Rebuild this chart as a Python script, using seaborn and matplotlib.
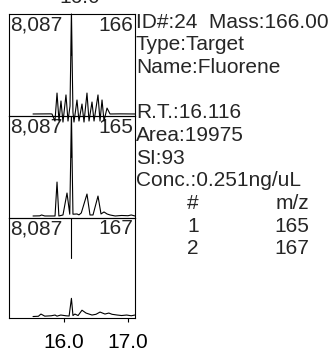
import numpy as np
import pandas as pd
import matplotlib
matplotlib.use("Agg")
import matplotlib.pyplot as plt
import seaborn as sns

sns.set_style("white")
plt.rcParams['font.family'] = ['Liberation Sans', 'DejaVu Sans']

# retention times (min) and intensities
rt_166 = [15.516, 15.781, 15.8125, 15.859, 15.891, 15.922, 15.953, 15.984, 16.031, 16.0625,
          16.094, 16.116, 16.14, 16.156, 16.203, 16.234, 16.281, 16.3125, 16.359, 16.391,
          16.4375, 16.469, 16.531, 16.5625, 16.594, 16.625, 16.672, 16.719, 16.875, 17.109]
int_166 = [160, 170, 160, -400, 1820, -400, 1190, -480, 1670, -400,
           790, 8087, 300, -480, 1270, -400, 950, -480, 1820, -400,
           1110, -400, 1670, -400, 1270, -400, 630, 160, 170, 160]

rt_165 = [15.516, 15.62, 15.65, 15.70, 15.80, 15.86, 15.891, 15.92, 15.984, 16.047,
          16.09, 16.116, 16.14, 16.203, 16.234, 16.27, 16.359, 16.406, 16.453, 16.531,
          16.578, 16.625, 16.672, 16.719, 16.80, 16.90, 17.0, 17.05, 17.109]
int_165 = [160, 170, 240, 160, 160, 160, 2850, 160, 240, 1980,
           300, 8087, 300, 320, 250, 400, 1900, 240, 240, 1740,
           320, 480, 320, 240, 160, 200, 180, 240, 160]

rt_167 = [15.516, 15.60, 15.64, 15.70, 15.80, 15.86, 15.891, 15.95, 16.03, 16.08,
          16.116, 16.14, 16.17, 16.22, 16.281, 16.344, 16.4375, 16.50, 16.5625, 16.64,
          16.70, 16.75, 16.83, 16.90, 16.98, 17.05, 17.109]
int_167 = [120, 140, 320, 150, 180, 240, 150, 240, 180, 160,
           1590, 200, 320, 200, 630, 400, 240, 300, 480, 320,
           400, 300, 240, 200, 240, 180, 240]

ions = ['166', '165', '167']
traces = [(rt_166, int_166), (rt_165, int_165), (rt_167, int_167)]
scale_max = 8087
rt_peak = 16.116

info_lines = ['ID#:24  Mass:166.00', 'Type:Target', 'Name:Fluorene', '',
              'R.T.:16.116', 'Area:19975', 'SI:93', 'Conc.:0.251ng/uL']
table_rows = [('#', 'm/z'), ('1', '165'), ('2', '167')]

W, H = 332, 351
fig = plt.figure(figsize=(W / 100, H / 100), dpi=100)

# panel boxes in pixels (top, bottom)
boxes = [(14, 116), (116, 218), (218, 318)]
fs = 15
axes = []
for i, (ion, (rt, inten)) in enumerate(zip(ions, traces)):
    top, bot = boxes[i]
    ax = fig.add_axes([9 / W, 1 - bot / H, 126 / W, (bot - top) / H])
    ax.set_facecolor('none')
    ax.set_zorder(3 - i)
    df = pd.DataFrame({'rt': rt, 'intensity': inten})
    sns.lineplot(data=df, x='rt', y='intensity', ax=ax, color='black',
                 linewidth=0.8, estimator=None, sort=False)
    if i == 0:
        ax.lines[-1].set_clip_on(False)
    ax.axvline(rt_peak, ymin=0.6, ymax=1, color='black', linewidth=0.8)
    ax.set_xlim(15.141, 17.109)
    ax.set_ylim(0, scale_max)
    ax.set_yticks([])
    ax.set_xlabel('')
    ax.set_ylabel('')
    for s in ax.spines.values():
        s.set_color('black')
        s.set_linewidth(0.8)
    ax.text(0.01, 0.985, f'{scale_max:,}', transform=ax.transAxes,
            ha='left', va='top', fontsize=fs)
    ax.text(0.985, 0.985, ion, transform=ax.transAxes,
            ha='right', va='top', fontsize=fs)
    if i < 2:
        ax.set_xticks([])
    else:
        ax.set_xticks([16.0, 17.0])
        ax.set_xticklabels(['16.0', '17.0'], fontsize=fs)
        ax.tick_params(axis='x', direction='out', length=3, width=0.8,
                       pad=8, bottom=True, colors='black')
    axes.append(ax)

# clipped top label
fig.text(80 / W, 1 - 3 / H, '16.0', ha='center', va='baseline', fontsize=fs)

# right hand info block
y = 22
for line in info_lines:
    if line:
        fig.text(136 / W, 1 - y / H, line, ha='left', va='center', fontsize=fs)
    y += 22.7
for a, b in table_rows:
    fig.text(193 / W, 1 - y / H, a, ha='center', va='center', fontsize=fs)
    fig.text(292 / W, 1 - y / H, b, ha='center', va='center', fontsize=fs)
    y += 22.7

fig.savefig('out.png', dpi=100)
